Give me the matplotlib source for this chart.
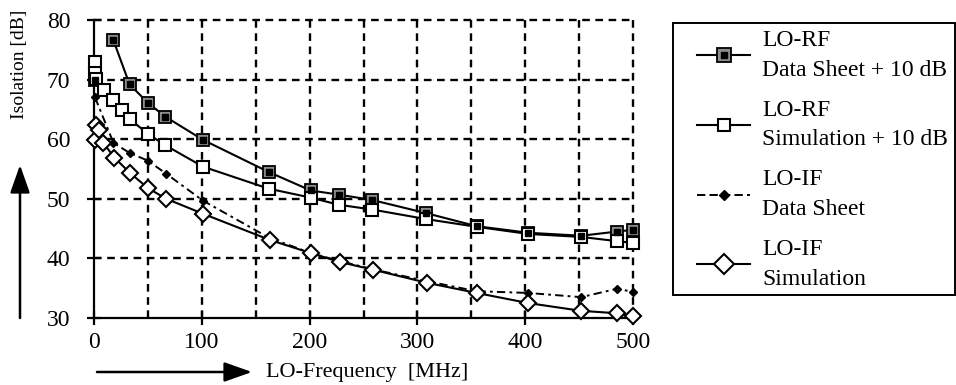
import matplotlib
matplotlib.use("Agg")
import matplotlib.pyplot as plt
from matplotlib.lines import Line2D
from matplotlib.patches import Rectangle
from matplotlib.legend_handler import HandlerTuple

plt.rcParams["font.family"] = ["Liberation Serif", "DejaVu Serif"]
plt.rcParams["lines.scale_dashes"] = False

# LO-RF isolation, data sheet values shifted by +10 dB
rf_ds_freq = [1, 18, 33, 50, 66, 101, 162, 201, 227, 258, 308, 355, 403, 452, 485, 500]
rf_ds_iso = [70.0, 76.6, 69.2, 66.1, 63.8, 59.9, 54.5, 51.4, 50.7, 49.8, 47.6, 45.4,
             44.3, 43.8, 44.5, 44.8]

# LO-RF isolation, simulation shifted by +10 dB
rf_sim_freq = [0.5, 1, 2, 9, 18, 26, 33, 50, 66, 101, 162, 201, 227, 258, 308, 355,
               403, 452, 485, 500]
rf_sim_iso = [72.9, 71.1, 70.1, 68.3, 66.6, 64.9, 63.4, 60.9, 59.0, 55.4, 51.7, 50.2,
              49.0, 48.2, 46.6, 45.3, 44.1, 43.6, 42.9, 42.6]

# LO-IF isolation, data sheet
if_ds_freq = [1, 18, 33, 50, 67, 101, 162, 201, 227, 258, 308, 355, 403, 452, 485, 500]
if_ds_iso = [67.0, 59.4, 57.7, 56.4, 54.2, 49.7, 43.5, 40.9, 39.6, 38.2, 36.2, 34.5,
             34.2, 33.5, 34.9, 34.4]

# LO-IF isolation, simulation
if_sim_freq = [0.5, 1.5, 5, 8.5, 19, 33, 50, 67, 101, 163, 201, 228, 259, 309, 355,
               403, 452, 485, 500]
if_sim_iso = [59.9, 62.4, 61.6, 59.4, 56.9, 54.4, 51.8, 50.0, 47.5, 43.1, 40.9, 39.4,
              38.1, 35.9, 34.2, 32.5, 31.2, 30.8, 30.3]

x_ticks = [0, 100, 200, 300, 400, 500]
y_ticks = [30, 40, 50, 60, 70, 80]
x_grid = [50, 100, 150, 200, 250, 300, 350, 400, 450, 500]
y_grid = [40, 50, 60, 70, 80]

labels = ["LO-RF\nData Sheet + 10 dB", "LO-RF\nSimulation + 10 dB",
          "LO-IF\nData Sheet", "LO-IF\nSimulation"]

W, H = 956, 385
fig = plt.figure(figsize=(W / 100, H / 100), dpi=100)
ax = fig.add_axes([94 / W, 67 / H, 539 / W, 298 / H])
ax.set_xlim(0, 500)
ax.set_ylim(30, 80)

# dashed grid, including the upper and right borders
grid_style = dict(color="k", lw=1.7, ls=(0, (5.5, 4)), clip_on=False, zorder=1)
for gx in x_grid:
    ax.axvline(gx, **grid_style)
for gy in y_grid:
    ax.axhline(gy, **grid_style)

for side in ("top", "right"):
    ax.spines[side].set_visible(False)
for side in ("left", "bottom"):
    ax.spines[side].set_linewidth(1.6)
ax.set_xticks(x_ticks)
ax.set_yticks(y_ticks)
ax.tick_params(direction="inout", length=10, width=1.6, labelsize=17)
ax.tick_params(axis="y", pad=12)
ax.tick_params(axis="x", pad=5)

lw = 1.5
# LO-RF data sheet: grey-framed black squares
ax.plot(rf_ds_freq[1:], rf_ds_iso[1:], color="k", lw=lw, zorder=3)
ax.plot(rf_ds_freq, rf_ds_iso, ls="none", marker="s", ms=9, mfc="#8c8c8c",
        mec="k", mew=1.3, zorder=4, clip_on=False)
ax.plot(rf_ds_freq, rf_ds_iso, ls="none", marker="s", ms=4.5, color="k", zorder=5,
        clip_on=False)

# LO-RF simulation: open squares
ax.plot(rf_sim_freq, rf_sim_iso, color="k", lw=lw, marker="s", ms=8, mfc="white",
        mec="k", mew=1.5, zorder=4, clip_on=False)

# LO-IF data sheet: small diamonds, dash-dot line
ax.plot(if_ds_freq, if_ds_iso, color="k", lw=1.4, ls=(0, (6, 3, 2, 3)), marker="D",
        ms=4, zorder=3, clip_on=False)

# LO-IF simulation: open diamonds
ax.plot(if_sim_freq, if_sim_iso, color="k", lw=lw, marker="D", ms=8, mfc="white",
        mec="k", mew=1.5, zorder=4, clip_on=False)

# axis titles with direction arrows
fig.text(20 / W, 1 - 64 / H, "Isolation [dB]", rotation=90, ha="center",
         va="center", fontsize=14)
fig.text(266 / W, 1 - 372 / H, "LO-Frequency  [MHz]", ha="left", va="center",
         fontsize=16)
arrow = dict(arrowstyle="-|>,head_length=1.7,head_width=0.6", color="k", lw=1.8,
             shrinkA=0, shrinkB=0)
ax.annotate("", xy=(20 / W, 1 - 165 / H), xytext=(20 / W, 1 - 318 / H),
            xycoords="figure fraction", textcoords="figure fraction",
            arrowprops=arrow, annotation_clip=False)
ax.annotate("", xy=(252 / W, 1 - 372 / H), xytext=(97 / W, 1 - 372 / H),
            xycoords="figure fraction", textcoords="figure fraction",
            arrowprops=arrow, annotation_clip=False)

# legend box
fig.patches.append(Rectangle((673 / W, 1 - 295 / H), 282 / W, 272 / H,
                             transform=fig.transFigure, fill=False, ec="k",
                             lw=1.4, zorder=0))
h_rf_ds = (Line2D([], [], color="k", lw=lw, marker="s", ms=10, mfc="#8c8c8c",
                  mec="k", mew=1.3),
           Line2D([], [], ls="none", marker="s", ms=5, color="k"))
h_rf_sim = Line2D([], [], color="k", lw=lw, marker="s", ms=9, mfc="white", mec="k",
                  mew=1.5)
h_if_ds = Line2D([], [], color="k", lw=1.4, ls=(0, (6, 3)), marker="D", ms=5)
h_if_sim = Line2D([], [], color="k", lw=lw, marker="D", ms=10, mfc="white", mec="k",
                  mew=1.5)
leg = fig.legend([h_rf_ds, h_rf_sim, h_if_ds, h_if_sim], labels,
                 handler_map={tuple: HandlerTuple(ndivide=1)},
                 loc="upper left", bbox_to_anchor=(697 / W, 1 - 30 / H),
                 borderaxespad=0, borderpad=0, fontsize=17, handlelength=2.25,
                 handletextpad=0.5, labelspacing=0.8, frameon=False)
for t in leg.get_texts():
    t.set_linespacing(1.55)

fig.savefig("out.png", dpi=100)
